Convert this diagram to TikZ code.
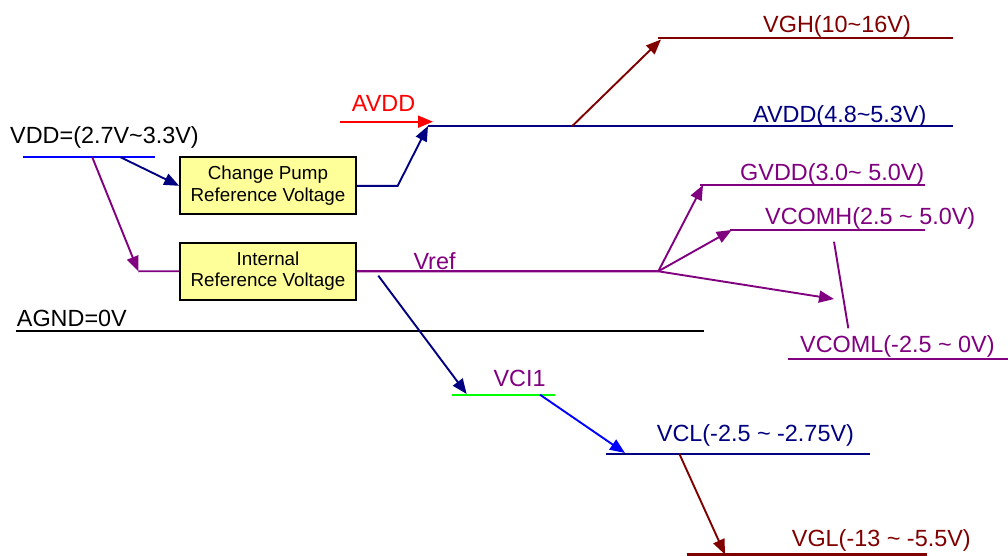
\documentclass[tikz,border=0pt]{standalone}
\usepackage{fontspec}
\setmainfont{Liberation Sans}
\usetikzlibrary{arrows.meta}
\definecolor{navy}{HTML}{000080}
\definecolor{dred}{HTML}{800000}
\definecolor{purp}{HTML}{800080}
\definecolor{lblue}{HTML}{0000FF}
\definecolor{lgreen}{HTML}{00FF00}
\definecolor{lred}{HTML}{FF0000}
\definecolor{boxy}{HTML}{FFFF99}
\begin{document}
\begin{tikzpicture}[x=1pt,y=-1pt,
  lvl/.style={line width=2.3pt},
  arr/.style={line width=1.9pt,-{Triangle[length=15pt,width=12pt]}},
  lbl/.style={anchor=base west,inner sep=0pt,font=\fontsize{23.4}{28}\selectfont},
  blk/.style={draw=black,line width=1.8pt,fill=boxy,minimum width=176pt,minimum height=57pt,inner sep=0pt,align=center,font=\fontsize{18.8}{21.6}\selectfont}]
\useasboundingbox (0,0) rectangle (1008,556);

% blocks
\node[blk] (cp) at (268,185.8) {Change Pump\\Reference Voltage};
\node[blk] (ir) at (268,271.2) {Internal\\Reference Voltage};

% coordinates
\coordinate (vddA) at (23,157.3);
\coordinate (vddB) at (155,157.3);
\coordinate (vdd1) at (120.7,157.3);
\coordinate (vdd2) at (92.3,157.3);
\coordinate (irc) at (138.3,271.3);
\coordinate (cpk) at (397.7,185.8);
\coordinate (avA) at (428,126);
\coordinate (avB) at (953,126);
\coordinate (avS) at (572.3,126);
\coordinate (rA) at (340,121.7);
\coordinate (rB) at (433,121.7);
\coordinate (vghA) at (658,38.3);
\coordinate (vghB) at (953,38.3);
\coordinate (vghT) at (661,39.5);
\coordinate (fan) at (658.3,271.3);
\coordinate (gvA) at (700,185);
\coordinate (gvB) at (925,185);
\coordinate (gvT) at (703,185);
\coordinate (vhA) at (730,230);
\coordinate (vhB) at (925,230);
\coordinate (vhT) at (731.7,230);
\coordinate (vlT) at (834,299);
\coordinate (slA) at (834,241.7);
\coordinate (slB) at (848.3,328.3);
\coordinate (vlA) at (788,359.3);
\coordinate (vlB) at (1008,359.3);
\coordinate (agA) at (15.7,330.7);
\coordinate (agB) at (704,330.7);
\coordinate (ciS) at (378.3,275.7);
\coordinate (ciT) at (466.7,394);
\coordinate (ciA) at (451.7,394.7);
\coordinate (ciB) at (555,394.7);
\coordinate (ciO) at (540,394.7);
\coordinate (vcT) at (625,453);
\coordinate (vcA) at (606,453.7);
\coordinate (vcB) at (870,453.7);
\coordinate (vcS) at (679.3,453.7);
\coordinate (vgT) at (725,554.5);
\coordinate (vgA) at (686.7,554.5);
\coordinate (vgB) at (926.7,554.5);

% level lines
\draw[lvl,lblue] (vddA) -- (vddB);
\draw[lvl,navy] (avA) -- (avB);
\draw[lvl,dred] (vghA) -- (vghB);
\draw[lvl,purp] (ir.east) -- (fan);
\draw[lvl,purp] (gvA) -- (gvB);
\draw[lvl,purp] (vhA) -- (vhB);
\draw[lvl,purp] (vlA) -- (vlB);
\draw[lvl,black] (agA) -- (agB);
\draw[lvl,lgreen] (ciA) -- (ciB);
\draw[lvl,navy] (vcA) -- (vcB);
\draw[lvl,dred] (vgA) -- (vgB);
\draw[line width=1.9pt,purp] (slA) -- (slB);

% connectors
\draw[arr,navy] (vdd1) -- (cp.west);
\draw[arr,purp] (vdd2) -- (irc);
\draw[line width=1.9pt,purp] (irc) -- (ir.west);
\draw[arr,navy] (cp.east) -- (cpk) -- (avA);
\draw[arr,lred] (rA) -- (rB);
\draw[arr,dred] (avS) -- (vghT);
\draw[arr,purp] (fan) -- (gvT);
\draw[arr,purp] (fan) -- (vhT);
\draw[arr,purp] (fan) -- (vlT);
\draw[arr,navy] (ciS) -- (ciT);
\draw[arr,lblue] (ciO) -- (vcT);
\draw[arr,dred] (vcS) -- (vgT);

% labels
\node[lbl] (tvdd) at (10,143.3) {VDD=(2.7V\textasciitilde3.3V)};
\node[lbl,lred] (tavr) at (351.7,111.7) {AVDD};
\node[lbl,navy] (tavdd) at (753,123) {AVDD(4.8\textasciitilde5.3V)};
\node[lbl,dred] (tvgh) at (763,32.3) {VGH(10\textasciitilde16V)};
\node[lbl,purp] (tgv) at (740,181) {GVDD(3.0\textasciitilde{} 5.0V)};
\node[lbl,purp] (tvh) at (765,224) {VCOMH(2.5 \textasciitilde{} 5.0V)};
\node[lbl,purp] (tvl) at (800,352) {VCOML(-2.5 \textasciitilde{} 0V)};
\node[lbl,purp] (tvref) at (413.3,269) {Vref};
\node[lbl] (tag) at (16.7,326.7) {AGND=0V};
\node[lbl,purp] (tci) at (493.3,386.7) {VCI1};
\node[lbl,navy] (tvcl) at (656.7,441.7) {VCL(-2.5 \textasciitilde{} -2.75V)};
\node[lbl,dred] (tvgl) at (791.7,546.7) {VGL(-13 \textasciitilde{} -5.5V)};
\end{tikzpicture}
\end{document}
